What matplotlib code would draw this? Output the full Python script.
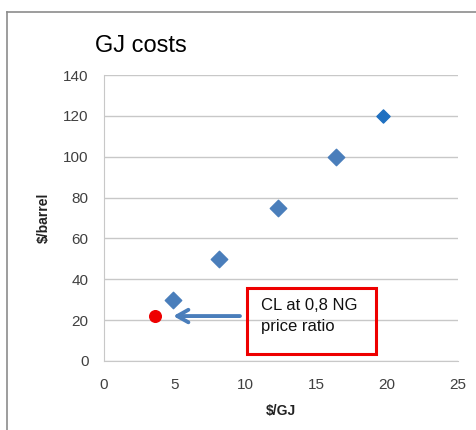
import matplotlib.pyplot as plt
from matplotlib.patches import Rectangle
from matplotlib.lines import Line2D

plt.rcParams['font.family'] = ['Liberation Sans', 'DejaVu Sans']

# data
gj_cost = [4.9, 8.1, 12.3, 16.4, 19.7]
barrel_cost = [30, 50, 75, 100, 120]
cl_x = [3.6]
cl_y = [22]
x_ticks = [0, 5, 10, 15, 20, 25]
y_ticks = [0, 20, 40, 60, 80, 100, 120, 140]

fig = plt.figure(figsize=(4.77, 4.30), dpi=100)
ax = fig.add_axes([0.218, 0.1605, 0.742, 0.665])

# outer chart frame (cropped at right/bottom)
fig.add_artist(Line2D([7/477, 7/477], [0, 1 - 12/430], color='#8c8c8c', lw=1.2))
fig.add_artist(Line2D([7/477, 1], [1 - 12/430, 1 - 12/430], color='#8c8c8c', lw=1.2))

ax.scatter(gj_cost[:-1], barrel_cost[:-1], marker='D', s=70, color='#4a7ebb', zorder=3)
ax.scatter(gj_cost[-1:], barrel_cost[-1:], marker='D', s=45, color='#1f70c1', zorder=3)
ax.scatter(cl_x, cl_y, marker='o', s=70, color='#ee0000', zorder=3)

ax.set_xlim(0, 25)
ax.set_ylim(0, 140)
ax.set_xticks(x_ticks)
ax.set_yticks(y_ticks)
ax.tick_params(length=0, labelsize=11, colors='#404040')
ax.tick_params(axis='y', pad=11)
ax.tick_params(axis='x', pad=12)
ax.grid(axis='y', color='#c8c8c8', lw=1)
ax.set_axisbelow(True)
for s in ['top', 'right']:
    ax.spines[s].set_visible(False)
for s in ['left', 'bottom']:
    ax.spines[s].set_color('#c8c8c8')

ax.set_xlabel('$/GJ', fontsize=10, fontweight='bold', labelpad=9, color='#222222')
ax.set_ylabel('$/barrel', fontsize=10, fontweight='bold', labelpad=9, color='#222222')
fig.text(95/477, 1 - 46/430, 'GJ costs', fontsize=17, va='center', ha='left')

# annotation
ax.annotate('', xy=(4.7, 22), xytext=(9.8, 22),
            arrowprops=dict(arrowstyle='->,head_length=0.8,head_width=0.45',
                            color='#4a7ebb', lw=2.8), annotation_clip=False)
ax.add_patch(Rectangle((10.1, 3.4), 9.1, 32.4, fill=False, edgecolor='#ee0000',
                       lw=2.2, clip_on=False, zorder=4))
ax.text(11.1, 22, 'CL at 0,8 NG\nprice ratio', fontsize=12, va='center', ha='left',
        linespacing=1.45, color='#111111')

fig.savefig('out.png', dpi=100)
